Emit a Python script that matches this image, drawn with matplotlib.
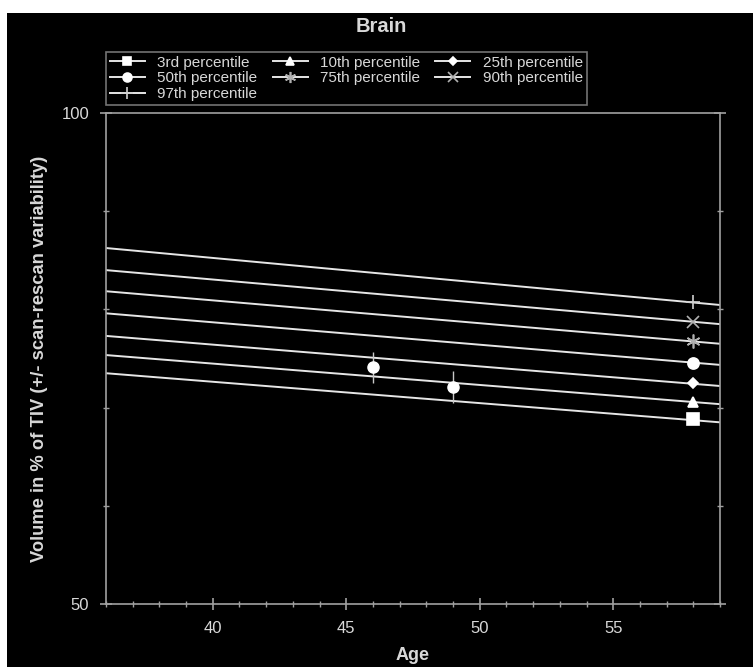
import matplotlib
matplotlib.use("Agg")
import matplotlib.pyplot as plt
from matplotlib.patches import Rectangle
from matplotlib.ticker import MultipleLocator, FixedLocator

plt.rcParams['font.family'] = ['Liberation Sans', 'DejaVu Sans']

# ---- data ----
line_ages = [36, 59]
pct_labels = ["3rd percentile", "10th percentile", "25th percentile",
              "50th percentile", "75th percentile", "90th percentile",
              "97th percentile"]
p3 = [73.5, 68.5]
p10 = [75.35, 70.35]
p25 = [77.3, 72.2]
p50 = [79.6, 74.35]
p75 = [81.85, 76.5]
p90 = [84.0, 78.5]
p97 = [86.25, 80.45]
marker_age = 58
marker_vals = [68.84, 70.57, 72.5, 74.54, 76.78, 78.7, 80.75]

subj_ages = [46, 49]
subj_vals = [74.1, 72.1]
subj_err = [1.6, 1.6]

x_ticks = [40, 45, 50, 55]
y_ticks = [50, 100]

# ---- style ----
fg = '#d8d8d8'
spine_c = '#a0a0a0'
line_c = '#e6e6e6'
markers = ['s', '^', 'D', 'o', (6, 2, 0), 'x', '+']
msizes = [8, 7, 5, 8, 10, 9, 10]
mcolors = ['white', 'white', 'white', 'white', '#b0b0b0', '#b0b0b0', '#d0d0d0']

fig = plt.figure(figsize=(7.53, 6.67), dpi=100, facecolor='black')
# white strips at top and left edges
fig.patches.append(Rectangle((0, 1 - 13/667), 1, 13/667, transform=fig.transFigure,
                             facecolor='white', edgecolor='none', zorder=-1))
fig.patches.append(Rectangle((0, 0), 7/753, 1, transform=fig.transFigure,
                             facecolor='white', edgecolor='none', zorder=-1))

ax = fig.add_axes([106/753, 63/667, (720-106)/753, (604-113)/667])
ax.set_facecolor('black')

series = [p3, p10, p25, p50, p75, p90, p97]
handles = []
for s, lab, m, ms, mc, mv in zip(series, pct_labels, markers, msizes, mcolors, marker_vals):
    ax.plot(line_ages, s, color=line_c, lw=1.4, zorder=2)
    ax.plot([marker_age], [mv], linestyle='none', marker=m, ms=ms,
            color=mc, mec=mc, mew=1.2, zorder=3)
    h, = ax.plot([], [], color=line_c, lw=1.4, marker=m, ms=ms * 0.8,
                 mfc=mc, mec=mc, mew=1.2)
    handles.append(h)

ax.errorbar(subj_ages, subj_vals, yerr=subj_err, fmt='o', color='white', ms=8,
            ecolor='#c8c8c8', elinewidth=1.0, capsize=0, zorder=4)

ax.set_xlim(36, 59)
ax.set_ylim(50, 100)
ax.xaxis.set_major_locator(FixedLocator(x_ticks))
ax.xaxis.set_minor_locator(MultipleLocator(1))
ax.yaxis.set_major_locator(FixedLocator(y_ticks))
ax.yaxis.set_minor_locator(MultipleLocator(10))

for sp in ax.spines.values():
    sp.set_color(spine_c)
    sp.set_linewidth(1.2)
ax.tick_params(which='both', direction='inout', colors=spine_c,
               top=False, right=True, labelcolor=fg, labelsize=12)
ax.tick_params(which='major', length=8, width=1.2, pad=8)
ax.tick_params(which='minor', length=5, width=1.0)

ax.set_xlabel('Age', color=fg, fontsize=13, fontweight='bold', labelpad=8)
ax.set_ylabel('Volume in % of TIV (+/- scan-rescan variability)', color=fg,
              fontsize=13.2, fontweight='bold', labelpad=10)

fig.text(381/753, 1 - 26/667, 'Brain', color=fg, fontsize=14.5, fontweight='bold',
         ha='center', va='center')

order = [0, 3, 6, 1, 4, 2, 5]
leg = fig.legend([handles[i] for i in order], [pct_labels[i] for i in order],
                 ncol=3, loc='upper left', bbox_to_anchor=(106/753, 1 - 52/667),
                 frameon=True, fancybox=False, fontsize=11, labelcolor=fg,
                 handlelength=2.3, handletextpad=0.8, columnspacing=1.0,
                 labelspacing=0.1, borderpad=0.25, borderaxespad=0)
leg.get_frame().set_facecolor('black')
leg.get_frame().set_edgecolor('#909090')
leg.get_frame().set_linewidth(1.2)

fig.savefig('out.png', dpi=100, facecolor='black')
